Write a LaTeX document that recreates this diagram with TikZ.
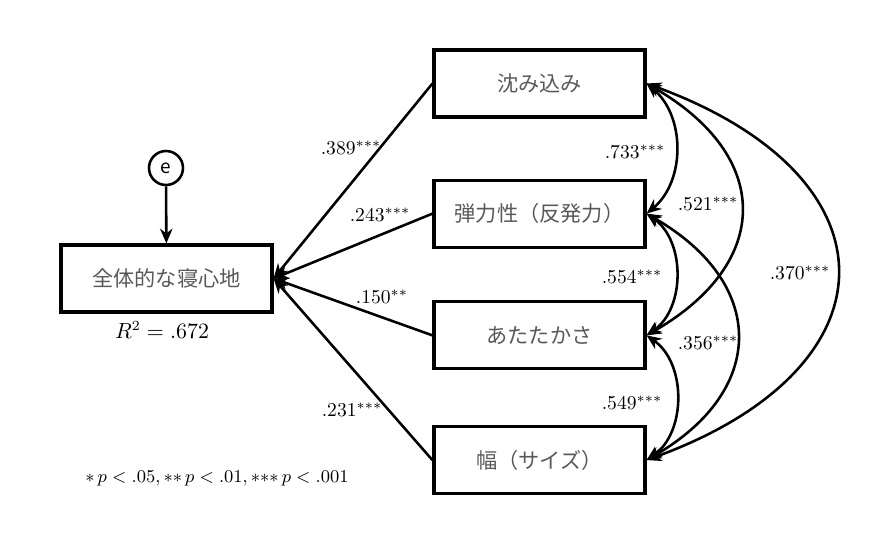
\documentclass[tikz,border=0pt]{standalone}
\usepackage{amsmath}
\usepackage{fontspec}
\newfontfamily\jpfont{Noto Sans CJK JP}
\usetikzlibrary{positioning,arrows.meta}
\tikzset{caja/.style={draw,line width=0.55mm,minimum width=105.5pt,minimum height=33.5pt,text=black!65,font=\jpfont\fontsize{10.6}{12}\selectfont}}
\tikzset{flecha/.style={line width=0.45mm,-{Stealth[length=2.6mm,width=2.2mm]}}}
\tikzset{cov/.style={line width=0.45mm,{Stealth[length=2.6mm,width=2.2mm]}-{Stealth[length=2.6mm,width=2.2mm]}}}
\tikzset{coef/.style={font=\fontsize{9.8}{11}\selectfont,inner sep=0pt}}
\newcommand{\estr}{\mathord{*}}

\begin{document}
\begin{tikzpicture}[x=0.5pt,y=-0.5pt]
            \useasboundingbox (0,0) rectangle (876,553);
            \node[caja] (x1) at (539.5,83.5) {沈み込み};
            \node[caja,below= 30pt   of x1] (x2) {弾力性（反発力）};
            \node[caja,below= 25.8pt of x2] (x3) {あたたかさ};
            \node[caja,below= 27.3pt of x3] (x4) {幅（サイズ）};
            \node[caja] (y) at (166.5,278.5) {全体的な寝心地};
            \node[draw,circle,line width=0.45mm,minimum size=17pt,inner sep=0pt,font=\jpfont\fontsize{9.5}{10}\selectfont] (e) at (166,168) {e};

            \draw[flecha] (e) to (y);
            \draw[flecha] (x1.west) to (y.east);
            \draw[flecha] (x2.west) to (y.east);
            \draw[flecha] (x3.west) to (y.east);
            \draw[flecha] (x4.west) to (y.east);

            \draw[cov] (x1.east) to[bend left=50] (x2.east);
            \draw[cov] (x2.east) to[bend left=55] (x3.east);
            \draw[cov] (x3.east) to[bend left=55] (x4.east);
            \draw[cov] (x1.east) to[bend left=60,looseness=1.48] (x3.east);
            \draw[cov] (x2.east) to[bend left=60,looseness=1.45] (x4.east);
            \draw[cov] (x1.east) to[bend left=70,looseness=1.84] (x4.east);

            \node[coef] (b1) at (351,148) {.389$^{***}$};
            \node[coef] (b2) at (380,215) {.243$^{***}$};
            \node[coef] (b3) at (382,297) {.150$^{**}$};
            \node[coef] (b4) at (352,410) {.231$^{***}$};
            \node[coef] (r12) at (635,152) {.733$^{***}$};
            \node[coef] (r23) at (632,277) {.554$^{***}$};
            \node[coef] (r34) at (632,403) {.549$^{***}$};
            \node[coef] (r13) at (708,204) {.521$^{***}$};
            \node[coef] (r24) at (708,343) {.356$^{***}$};
            \node[coef] (r14) at (800,273) {.370$^{***}$};
            \node[coef,font=\fontsize{10.5}{12}\selectfont] (r2) at (162,330) {$R^2=.672$};
            \node[coef,font=\fontsize{9}{11}\selectfont] (nota) at (217,478) {$\estr\,p<.05,\estr\estr\,p<.01,\estr\estr\estr\,p<.001$};
\end{tikzpicture}
\end{document}
